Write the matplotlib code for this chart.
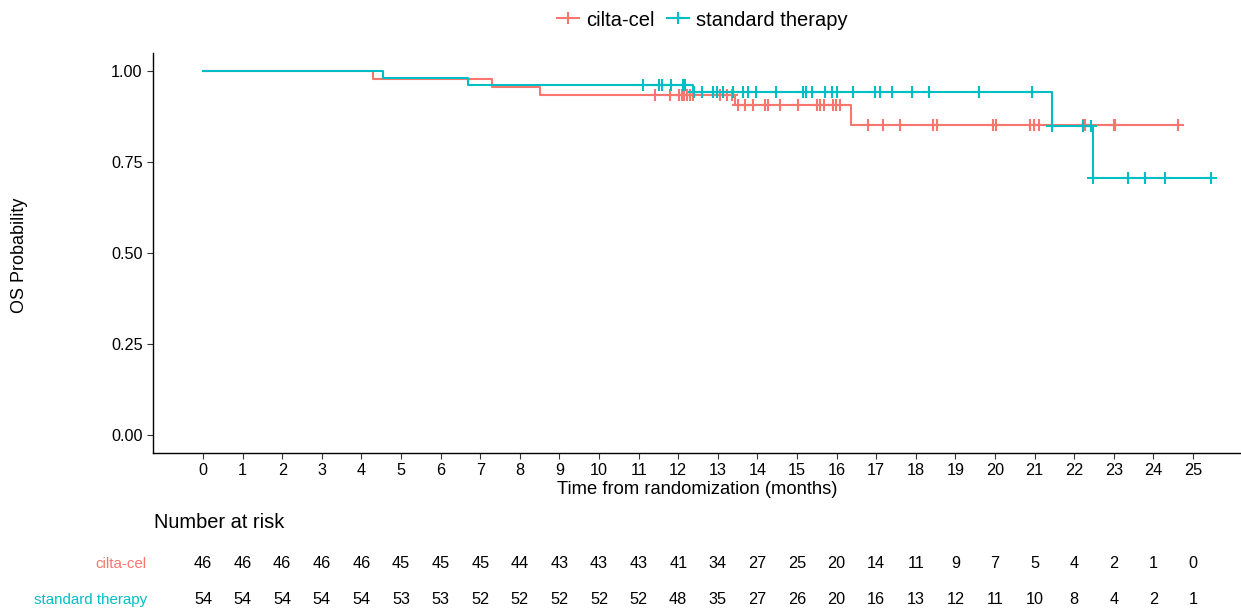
import numpy as np
import matplotlib.pyplot as plt
from matplotlib.lines import Line2D
from matplotlib.transforms import blended_transform_factory

plt.rcParams['font.family'] = ['Liberation Sans', 'DejaVu Sans']

RED = '#F8766D'
TEAL = '#00BFC4'

groups = ['cilta-cel', 'standard therapy']

# step curves: event times and survival after each step
cilta_times = [0, 4.29, 7.3, 8.5, 13.43, 16.36, 24.62]
cilta_surv = [1.0, 0.978, 0.957, 0.935, 0.907, 0.853, 0.853]
std_times = [0, 4.55, 6.7, 12.37, 21.44, 22.47, 25.45]
std_surv = [1.0, 0.981, 0.963, 0.942, 0.848, 0.706, 0.706]

# censoring times
cilta_censor = [11.41, 11.79, 12.02, 12.1, 12.15, 12.22, 12.3, 12.37, 13.05, 13.23,
                13.36, 13.51, 13.69, 13.89, 14.19, 14.27, 14.57, 15.03, 15.5, 15.58,
                15.68, 15.91, 15.98, 16.09, 16.8, 17.17, 17.6, 18.43, 18.54, 19.95,
                20.03, 20.88, 20.98, 21.11, 22.22, 22.27, 23.0, 23.03, 24.62]
std_censor = [11.11, 11.52, 11.59, 11.82, 12.12, 12.17, 12.4, 12.6, 12.88, 12.98,
              13.13, 13.38, 13.64, 13.76, 13.96, 14.47, 15.15, 15.23, 15.38, 15.71,
              15.88, 16.0, 16.41, 16.97, 17.1, 17.4, 17.9, 18.33, 19.6, 20.93,
              21.44, 22.22, 22.42, 22.47, 23.36, 23.79, 24.28, 25.45]

risk_times = list(range(26))
cilta_risk = [46, 46, 46, 46, 46, 45, 45, 45, 44, 43, 43, 43, 41, 34, 27, 25, 20,
              14, 11, 9, 7, 5, 4, 2, 1, 0]
std_risk = [54, 54, 54, 54, 54, 53, 53, 52, 52, 52, 52, 52, 48, 35, 27, 26, 20,
            16, 13, 12, 11, 10, 8, 4, 2, 1]

y_ticks = [0.0, 0.25, 0.5, 0.75, 1.0]


def surv_at(times, surv, t):
    idx = np.searchsorted(times, t, side='right') - 1
    return np.array(surv)[idx]


def plot_curve(ax, times, surv, censor, color):
    ax.step(times, surv, where='post', color=color, lw=1.5)
    ax.plot(censor, surv_at(times, surv, censor), ls='none', marker='+',
            ms=9, mew=1.5, color=color)


fig = plt.figure(figsize=(12.41, 6.12), dpi=100)
ax = fig.add_axes([153 / 1241, 1 - 453 / 612, 1 - 153 / 1241, 400 / 612])

plot_curve(ax, cilta_times, cilta_surv, cilta_censor, RED)
plot_curve(ax, std_times, std_surv, std_censor, TEAL)

ax.set_xlim(-1.263, 26.21)
ax.set_ylim(-0.05, 1.05)
ax.set_xticks(risk_times)
ax.set_yticks(y_ticks)
ax.set_yticklabels(['%.2f' % v for v in y_ticks])
ax.tick_params(labelsize=11.7, colors='#333333', length=4, labelcolor='black')
for s in ['top', 'right']:
    ax.spines[s].set_visible(False)
for s in ['left', 'bottom']:
    ax.spines[s].set_color('black')
    ax.spines[s].set_linewidth(1.0)
ax.set_xlabel('Time from randomization (months)', fontsize=13.2, labelpad=2)
fig.text(20 / 1241, 1 - 255 / 612, 'OS Probability', rotation=90, fontsize=13,
         ha='center', va='center')

# legend on top
handles = [Line2D([], [], color=c, marker='+', ms=9, mew=1.5, lw=1.5)
           for c in [RED, TEAL]]
fig.legend(handles, groups, loc='center', bbox_to_anchor=(0.566, 1 - 20 / 612),
           ncol=2, frameon=False, fontsize=14.5, handlelength=1.1,
           handletextpad=0.35, columnspacing=0.6)

# number at risk table
trans = blended_transform_factory(ax.transData, fig.transFigure)
fig.text(154 / 1241, 1 - 523 / 612, 'Number at risk', fontsize=14.4,
         ha='left', va='center')
for row, (name, counts, color) in enumerate(zip(groups, [cilta_risk, std_risk],
                                                [RED, TEAL])):
    y = 1 - [564, 600][row] / 612
    fig.text(147 / 1241, y, name, color=color, fontsize=10.9, ha='right',
             va='center')
    for t, n in zip(risk_times, counts):
        fig.text(t, y, str(n), transform=trans, fontsize=11.7, ha='center',
                 va='center')

fig.savefig('out.png', dpi=100)
